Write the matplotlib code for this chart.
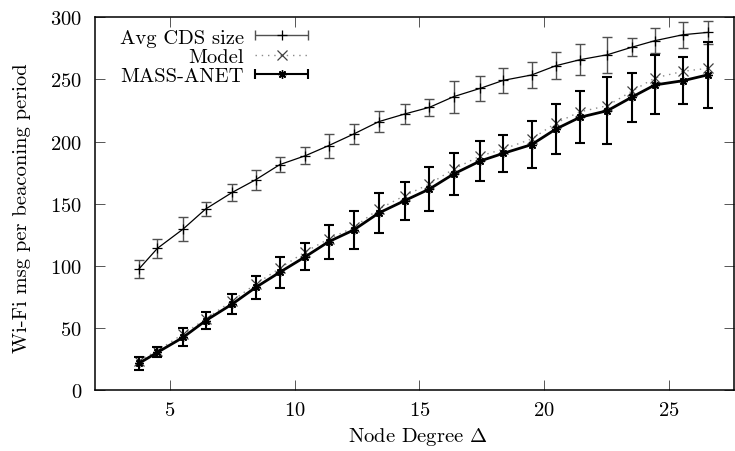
#!/usr/bin/env python3
"""
Wi-Fi messages per beaconing period vs node degree.
Gnuplot-like look: CM serif font, inward mirrored ticks, error bars.
"""

import matplotlib
matplotlib.use("Agg")
import matplotlib.pyplot as plt
from matplotlib.lines import Line2D
from matplotlib.legend_handler import HandlerBase, HandlerLine2D


# -------------------------------------------------------------------
# DATA
# -------------------------------------------------------------------

node_degree = [3.76, 4.5, 5.53, 6.43, 7.5, 8.44, 9.4, 10.43, 11.36, 12.36,
               13.37, 14.4, 15.4, 16.37, 17.44, 18.36, 19.49, 20.47, 21.43,
               22.53, 23.5, 24.43, 25.56, 26.57]

cds_size = [97.6, 114.2, 129.7, 145.8, 159.2, 169.4, 181.5, 188.7, 196.8,
            206.1, 216.1, 222.2, 227.6, 236.2, 242.9, 249.3, 253.6, 261.1,
            265.9, 269.9, 275.9, 281.2, 286.0, 287.9]
cds_err = [7.0, 7.6, 10.0, 5.6, 7.0, 8.0, 6.0, 7.0, 9.6, 8.3, 8.7, 7.8, 7.0,
           12.9, 10.0, 10.0, 10.4, 11.0, 12.7, 14.5, 7.4, 10.0, 10.5, 9.4]

model = [23.8, 31.9, 45.3, 57.3, 72.0, 85.5, 98.1, 111.5, 121.7, 131.0,
         145.8, 156.5, 165.9, 178.0, 188.5, 194.0, 202.1, 215.0, 224.0,
         228.9, 240.5, 251.2, 256.6, 259.0]

mass_anet = [21.7, 30.5, 42.6, 56.0, 69.4, 82.8, 94.9, 107.5, 119.5, 128.9,
             142.6, 152.5, 161.9, 174.0, 184.5, 190.6, 197.6, 210.2, 219.6,
             224.9, 235.7, 245.6, 249.0, 253.8]
mass_err = [5.0, 4.0, 7.2, 6.7, 7.8, 9.0, 12.6, 11.0, 13.7, 15.0, 15.8, 15.4,
            17.4, 16.8, 15.8, 14.9, 18.9, 19.8, 21.0, 27.0, 19.8, 23.7, 18.8,
            26.5]

x_ticks = [5, 10, 15, 20, 25]
y_ticks = [0, 50, 100, 150, 200, 250, 300]

FS = 14.8


# -------------------------------------------------------------------
# LEGEND HANDLER: horizontal bar with caps + marker (gnuplot style)
# -------------------------------------------------------------------

class HandlerCappedBar(HandlerBase):
    def __init__(self, bar_color, bar_lw, cap_size, **kw):
        super().__init__(**kw)
        self.bar_color = bar_color
        self.bar_lw = bar_lw
        self.cap_size = cap_size

    def create_artists(self, legend, orig_handle, xdescent, ydescent,
                       width, height, fontsize, trans):
        y = height / 2 - ydescent
        x0, x1 = -xdescent, width - xdescent
        bar = Line2D([x0, x1], [y, y], color=self.bar_color, lw=self.bar_lw,
                     marker="|", ms=self.cap_size, mew=self.bar_lw,
                     solid_capstyle="butt")
        mk = Line2D([(x0 + x1) / 2], [y], linestyle="none",
                    marker=orig_handle.get_marker(),
                    ms=orig_handle.get_markersize(),
                    mew=orig_handle.get_markeredgewidth(),
                    color=orig_handle.get_markeredgecolor())
        bar.set_transform(trans)
        mk.set_transform(trans)
        return [bar, mk]


# -------------------------------------------------------------------
# PLOT
# -------------------------------------------------------------------

def main():
    plt.rcParams["font.family"] = ["cmr10", "DejaVu Serif"]
    plt.rcParams["mathtext.fontset"] = "cm"
    plt.rcParams["axes.unicode_minus"] = False
    plt.rcParams["axes.formatter.use_mathtext"] = True

    fig = plt.figure(figsize=(7.35, 4.52), dpi=100)
    ax = fig.add_axes([0.1293, 0.1343, 0.8693, 0.8252])

    # Avg CDS size
    ax.errorbar(node_degree, cds_size, yerr=cds_err, fmt="none",
                ecolor="#505050", elinewidth=1.0, capsize=3.4,
                capthick=1.0, zorder=2)
    cds_line, = ax.plot(node_degree, cds_size, color="black", lw=0.9,
                        marker="+", ms=7, mew=0.9, mec="black", zorder=3)

    # Model
    model_line, = ax.plot(node_degree, model, color="#8a8a8a", lw=1.0,
                          linestyle=(0, (1, 3.5)), marker="x", ms=7.5,
                          mew=0.9, mec="#404040", zorder=4)

    # MASS-ANET
    ax.errorbar(node_degree, mass_anet, yerr=mass_err, fmt="none",
                ecolor="black", elinewidth=1.5, capsize=3.6,
                capthick=1.5, zorder=5)
    mass_line, = ax.plot(node_degree, mass_anet, color="black", lw=2.0,
                         marker=(8, 2, 0), ms=6, mew=1.0, mec="black",
                         zorder=6)

    ax.set_xlim(2, 27.6)
    ax.set_ylim(0, 300)
    ax.set_xticks(x_ticks)
    ax.set_yticks(y_ticks)

    ax.tick_params(direction="in", length=7, width=0.7, color="#555555",
                   top=True, right=True, labelsize=FS)
    ax.tick_params(axis="x", pad=8)
    ax.tick_params(axis="y", pad=9.4)
    for sp in ax.spines.values():
        sp.set_linewidth(1.1)

    ax.set_xlabel(r"Node Degree $\Delta$", fontsize=FS, va="top")
    ax.xaxis.set_label_coords(0.505, -0.093)
    ax.set_ylabel("Wi-Fi msg per beaconing period", fontsize=FS,
                  va="bottom")
    ax.yaxis.set_label_coords(-0.100, 0.49)

    ax.legend(
        [cds_line, model_line, mass_line],
        ["Avg CDS size", "Model", "MASS-ANET"],
        handler_map={
            cds_line: HandlerCappedBar("#505050", 1.0, 7),
            mass_line: HandlerCappedBar("black", 1.5, 7),
            model_line: HandlerLine2D(numpoints=1),
        },
        loc="upper left", bbox_to_anchor=(0.039, 0.971), frameon=False,
        markerfirst=False, fontsize=FS, handlelength=2.55,
        handletextpad=0.55, labelspacing=0.05, borderaxespad=0.0,
        borderpad=0.0,
    )

    fig.savefig("out.png", dpi=100)
    plt.close(fig)


if __name__ == "__main__":
    main()
